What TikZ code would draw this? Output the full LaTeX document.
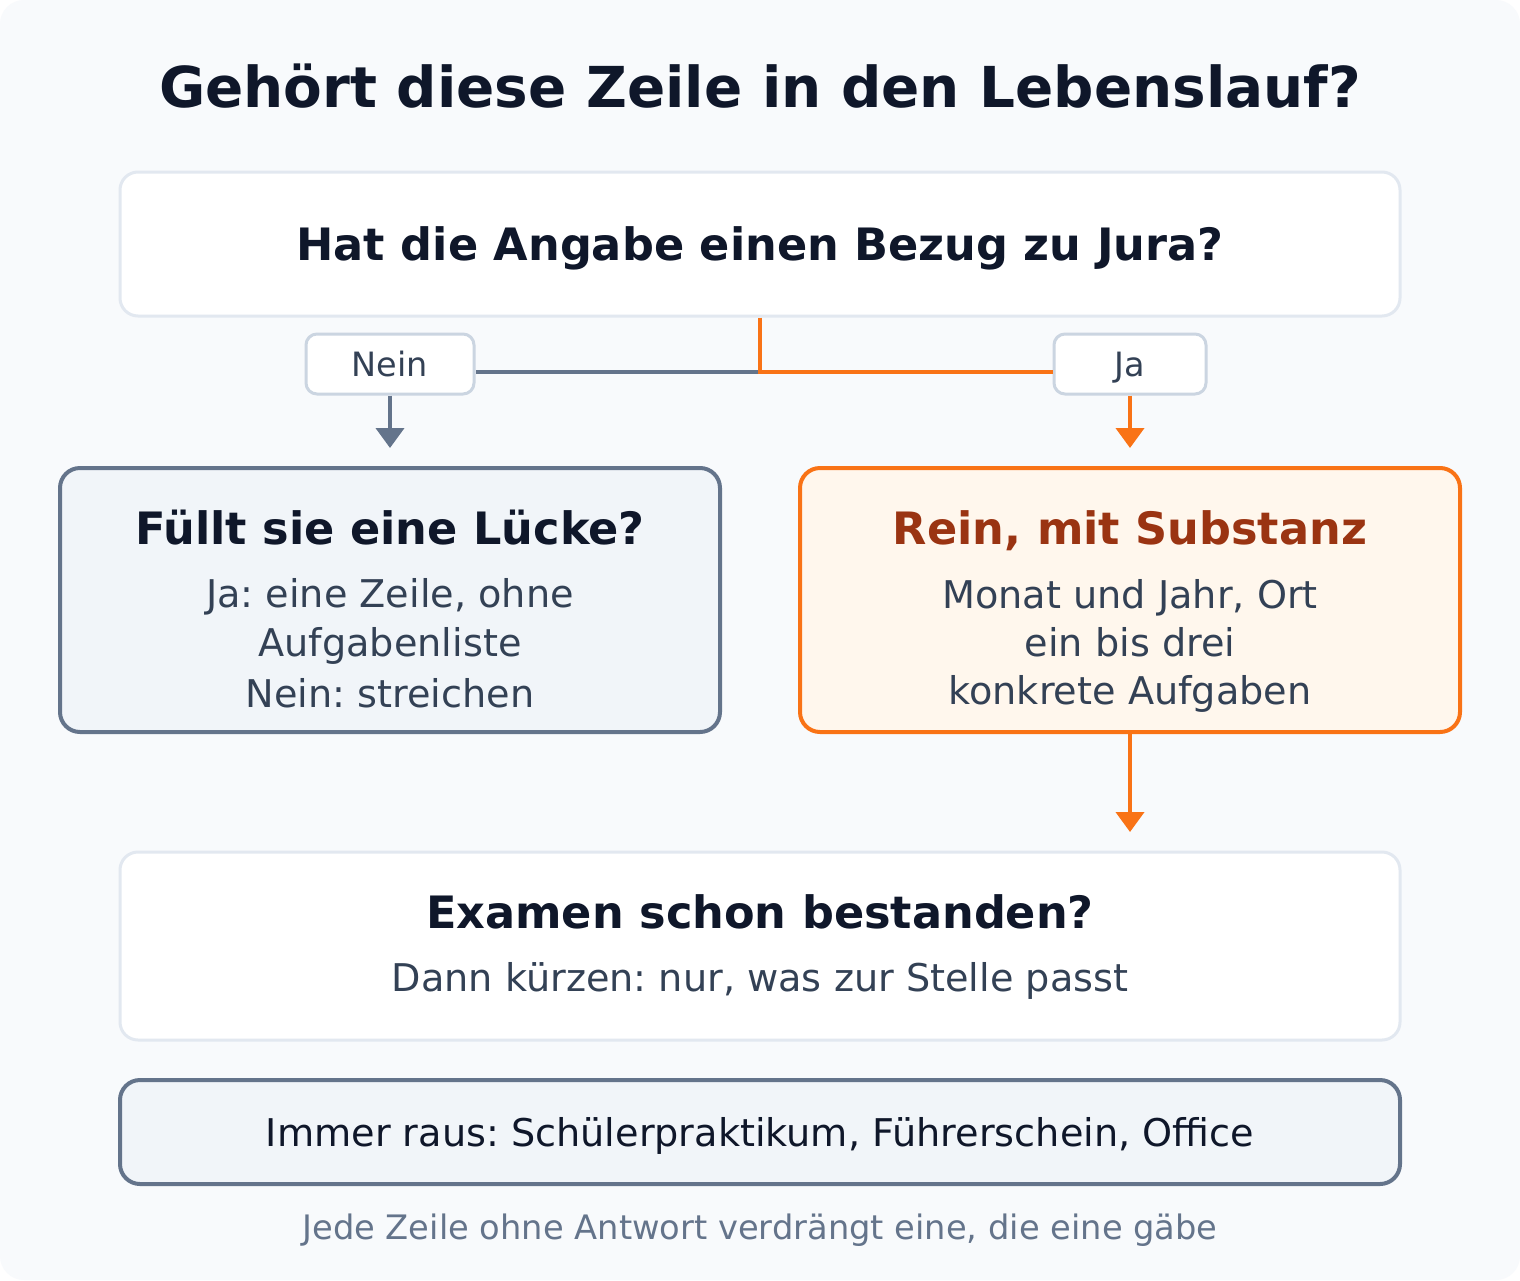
\documentclass[tikz,border=0pt]{standalone}
\usepackage{fontspec}
\setmainfont{DejaVu Sans}
\usetikzlibrary{arrows.meta,positioning}

\definecolor{ink}{HTML}{0F172A}
\definecolor{slate}{HTML}{334155}
\definecolor{muted}{HTML}{64748B}
\definecolor{edge}{HTML}{E2E8F0}
\definecolor{pill}{HTML}{CBD5E1}
\definecolor{paper}{HTML}{F8FAFC}
\definecolor{greybox}{HTML}{F1F5F9}
\definecolor{accent}{HTML}{F97316}
\definecolor{accentbg}{HTML}{FFF7ED}
\definecolor{accentdk}{HTML}{9A3412}

\newcommand{\fs}[1]{\fontsize{#1}{#1}\selectfont}

\tikzset{
  box/.style={draw=edge, line width=3pt, fill=white, rounded corners=18pt,
    inner sep=0pt},
  greyframe/.style={draw=muted, line width=4pt, fill=greybox, rounded corners=20pt,
    inner sep=0pt},
  orangeframe/.style={draw=accent, line width=4pt, fill=accentbg, rounded corners=20pt,
    inner sep=0pt},
  tag/.style={draw=pill, line width=3pt, fill=white, rounded corners=11pt,
    minimum width=#1, minimum height=60pt, inner sep=0pt},
  tagtext/.style={anchor=base, inner sep=0pt, text=slate, font=\fs{33.5}},
  head/.style={anchor=base, inner sep=0pt, font=\bfseries\fs{44.6}, text=ink},
  body/.style={anchor=base, inner sep=0pt, font=\fs{38.2}, text=slate},
  flow/.style={line width=4pt},
  tip/.style={-{Triangle[width=28pt,length=20pt]}}
}

\begin{document}
\frenchspacing
\begin{tikzpicture}[x=1pt, y=-1pt]
  \useasboundingbox (0,0) rectangle (1520,1280);
  \fill[white] (0,0) rectangle (1520,1280);
  \fill[paper, rounded corners=24pt] (0,0) rectangle (1520,1280);

  % title
  \node[anchor=base, inner sep=0pt, font=\bfseries\fs{56.4}, text=ink] (title) at (760,107) {Gehört diese Zeile in den Lebenslauf?};

  % first question
  \node[box, minimum width=1280pt, minimum height=144pt] (q1) at (760,244) {};
  \node[head] (q1text) at (760,260) {Hat die Angabe einen Bezug zu Jura?};

  % answers
  \node[tag=168pt] (nein) at (390,364) {};
  \node[tagtext] (neintext) at (390,376) {Nein};
  \node[tag=152pt] (ja) at (1130,364) {};
  \node[tagtext] (jatext) at (1130,376) {Ja};
  \coordinate (split) at (760,372);
  \draw[flow, muted] (split) -- (nein.east |- split);
  \draw[flow, accent] (q1.south) -- (split) -- (ja.west |- split);

  % left branch
  \node[greyframe, minimum width=660pt, minimum height=264pt] (gap) at (390,600) {};
  \node[head] (gaphead) at (390,544) {Füllt sie eine Lücke?};
  \node[body] (gapa) at (390,607) {Ja: eine Zeile, ohne};
  \node[body] (gapb) at (390,656) {Aufgabenliste};
  \node[body] (gapc) at (390,707) {Nein: streichen};
  \coordinate (gapin) at (390,448);
  \draw[flow, muted, tip] (nein.south) -- (gapin);

  % right branch
  \node[orangeframe, minimum width=660pt, minimum height=264pt] (keep) at (1130,600) {};
  \node[head, text=accentdk] (keephead) at (1130,544) {Rein, mit Substanz};
  \node[body] (keepa) at (1130,608) {Monat und Jahr, Ort};
  \node[body] (keepb) at (1130,656) {ein bis drei};
  \node[body] (keepc) at (1130,704) {konkrete Aufgaben};
  \coordinate (keepin) at (1130,448);
  \draw[flow, accent, tip] (ja.south) -- (keepin);

  % second question
  \node[box, minimum width=1280pt, minimum height=188pt] (q2) at (760,946) {};
  \node[head] (q2head) at (760,928) {Examen schon bestanden?};
  \node[body] (q2body) at (760,991) {Dann kürzen: nur, was zur Stelle passt};
  \coordinate (q2in) at (1130,832);
  \draw[flow, accent, tip] (keep.south) -- (q2in);

  % always out
  \node[greyframe, minimum width=1280pt, minimum height=104pt] (out) at (760,1132) {};
  \node[body, text=ink] (outtext) at (760,1146) {Immer raus: Schülerpraktikum, Führerschein, Office};

  % footer
  \node[anchor=base, inner sep=0pt, font=\fs{33.7}, text=muted] (foot) at (760,1239) {Jede Zeile ohne Antwort verdrängt eine, die eine gäbe};
\end{tikzpicture}
\end{document}
